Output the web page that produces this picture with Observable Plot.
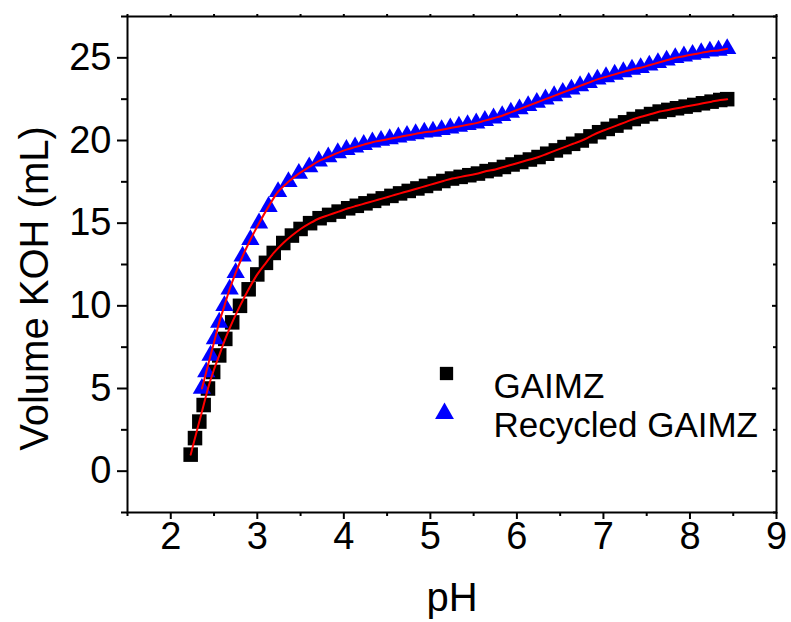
<!DOCTYPE html>
<html><head><meta charset="utf-8">
<script src="https://cdn.jsdelivr.net/npm/d3@7"></script>
<script src="https://cdn.jsdelivr.net/npm/@observablehq/plot@0.6"></script>
<style>body{margin:0;background:#fff}#chart{width:791px;height:622px}</style>
</head><body><div id="chart"></div>
<script>
const gaimzPH = [2.23,2.28,2.33,2.38,2.43,2.49,2.56,2.63,2.71,2.80,2.90,3.00,3.10,3.19,3.30,3.40,3.50,3.61,3.72,3.83,3.94,4.05,4.15,4.25,4.35,4.45,4.55,4.65,4.75,4.85,4.95,5.05,5.15,5.25,5.35,5.45,5.55,5.65,5.75,5.85,5.95,6.05,6.15,6.25,6.35,6.45,6.55,6.65,6.75,6.85,6.95,7.05,7.15,7.25,7.35,7.45,7.55,7.65,7.75,7.85,7.95,8.05,8.15,8.25,8.35,8.43];
const gaimzVol = [1,2,3,4,5,6,7,8,9,10,11,11.9,12.6,13.2,13.8,14.25,14.65,15.0,15.3,15.5,15.7,15.9,16.05,16.2,16.35,16.5,16.65,16.8,16.95,17.1,17.25,17.4,17.55,17.7,17.8,17.9,18.0,18.15,18.25,18.4,18.55,18.7,18.85,19.0,19.2,19.4,19.6,19.8,20.0,20.25,20.5,20.7,20.9,21.1,21.3,21.45,21.6,21.75,21.85,21.95,22.05,22.15,22.25,22.35,22.45,22.5];
const recPH = [2.36,2.41,2.46,2.51,2.56,2.62,2.68,2.75,2.83,2.92,3.02,3.13,3.24,3.36,3.48,3.60,3.71,3.82,3.93,4.03,4.13,4.23,4.33,4.43,4.53,4.63,4.73,4.83,4.93,5.03,5.13,5.23,5.33,5.43,5.53,5.63,5.73,5.83,5.93,6.03,6.13,6.23,6.33,6.43,6.53,6.63,6.73,6.83,6.93,7.03,7.13,7.23,7.33,7.43,7.53,7.63,7.73,7.83,7.93,8.03,8.13,8.23,8.33,8.43];
const recVol = [5,6,7,8,9,10,11,12,13,14,15,16,16.9,17.5,18.0,18.4,18.75,19.0,19.25,19.45,19.6,19.75,19.9,20.0,20.1,20.2,20.3,20.4,20.5,20.55,20.65,20.75,20.85,20.95,21.05,21.2,21.35,21.5,21.7,21.9,22.1,22.3,22.5,22.7,22.9,23.1,23.3,23.5,23.7,23.85,24.0,24.15,24.3,24.4,24.55,24.7,24.85,25.0,25.1,25.2,25.3,25.4,25.45,25.55];
const seriesNames = ["GAIMZ", "Recycled GAIMZ"];
const xTicks = [2,3,4,5,6,7,8,9];
const xMinor = [1.5,2.5,3.5,4.5,5.5,6.5,7.5,8.5];
const yTicks = [0,5,10,15,20,25];
const yMinor = [-2.5,2.5,7.5,12.5,17.5,22.5,27.5];
const xLabel = "pH";
const yLabel = "Volume KOH (mL)";

const gaimz = gaimzPH.map((x, i) => ({x, y: gaimzVol[i]}));
const rec = recPH.map((x, i) => ({x, y: recVol[i]}));

const W = 791, H = 622, mL = 127, mR = 15, mT = 16, mB = 110;
const innerW = W - mL - mR, innerH = H - mT - mB;
const FS = 38;

const chart = Plot.plot({
  width: W, height: H,
  marginLeft: mL, marginRight: mR, marginTop: mT, marginBottom: mB,
  style: {fontFamily: "'Liberation Sans', Arial, sans-serif", background: "white", color: "black"},
  x: {domain: [1.5, 9]},
  y: {domain: [-2.5, 27.5]},
  marks: [
    Plot.dot(gaimz, {x: "x", y: "y", symbol: "square", r: 8.2, fill: "black"}),
    Plot.dot(rec, {x: "x", y: "y", symbol: "triangle", r: 6.8, fill: "#0000ff"}),
    Plot.line(gaimz, {x: "x", y: "y", stroke: "red", strokeWidth: 2, curve: "catmull-rom"}),
    Plot.line(rec, {x: "x", y: "y", stroke: "red", strokeWidth: 2, curve: "catmull-rom"}),
    Plot.axisX(xTicks, {anchor: "bottom", tickSize: 7, tickPadding: 3, fontSize: FS, strokeWidth: 2, label: null}),
    Plot.axisX(xMinor, {anchor: "bottom", tickSize: 4, tickFormat: () => "", strokeWidth: 2, label: null}),
    Plot.axisX(xTicks.concat(xMinor), {anchor: "top", tickSize: 3, tickFormat: () => "", strokeWidth: 2, label: null}),
    Plot.axisY(yTicks, {anchor: "left", tickSize: 10, tickPadding: 6, fontSize: FS, strokeWidth: 2, label: null}),
    Plot.axisY(yMinor, {anchor: "left", tickSize: 6, tickFormat: () => "", strokeWidth: 2, label: null}),
    Plot.tickY(yTicks, {y: d => d, insetLeft: innerW - 4, strokeWidth: 2}),
    Plot.tickY(yMinor, {y: d => d, insetLeft: innerW - 3, strokeWidth: 2}),
    Plot.frame({stroke: "black", strokeWidth: 2}),
    Plot.text([xLabel], {frameAnchor: "bottom", textAnchor: "middle", dy: 86, lineAnchor: "middle", fontSize: 40}),
    Plot.text([yLabel], {frameAnchor: "left", textAnchor: "middle", rotate: -90, dx: -92, dy: 24, lineAnchor: "middle", fontSize: 40}),
    Plot.dot([seriesNames[0]], {frameAnchor: "top-left", dx: 446 - mL, dy: 373 - mT, symbol: "square", r: 7.5, fill: "black"}),
    Plot.dot([seriesNames[1]], {frameAnchor: "top-left", dx: 444 - mL, dy: 413 - mT, symbol: "triangle", r: 7, fill: "#0000ff"}),
    Plot.text([seriesNames[0]], {frameAnchor: "top-left", dx: 493 - mL, dy: 373 - mT, textAnchor: "start", fontSize: 35}),
    Plot.text([seriesNames[1]], {frameAnchor: "top-left", dx: 493 - mL, dy: 412 - mT, textAnchor: "start", fontSize: 35})
  ]
});
document.getElementById("chart").appendChild(chart);
</script>
</body></html>
